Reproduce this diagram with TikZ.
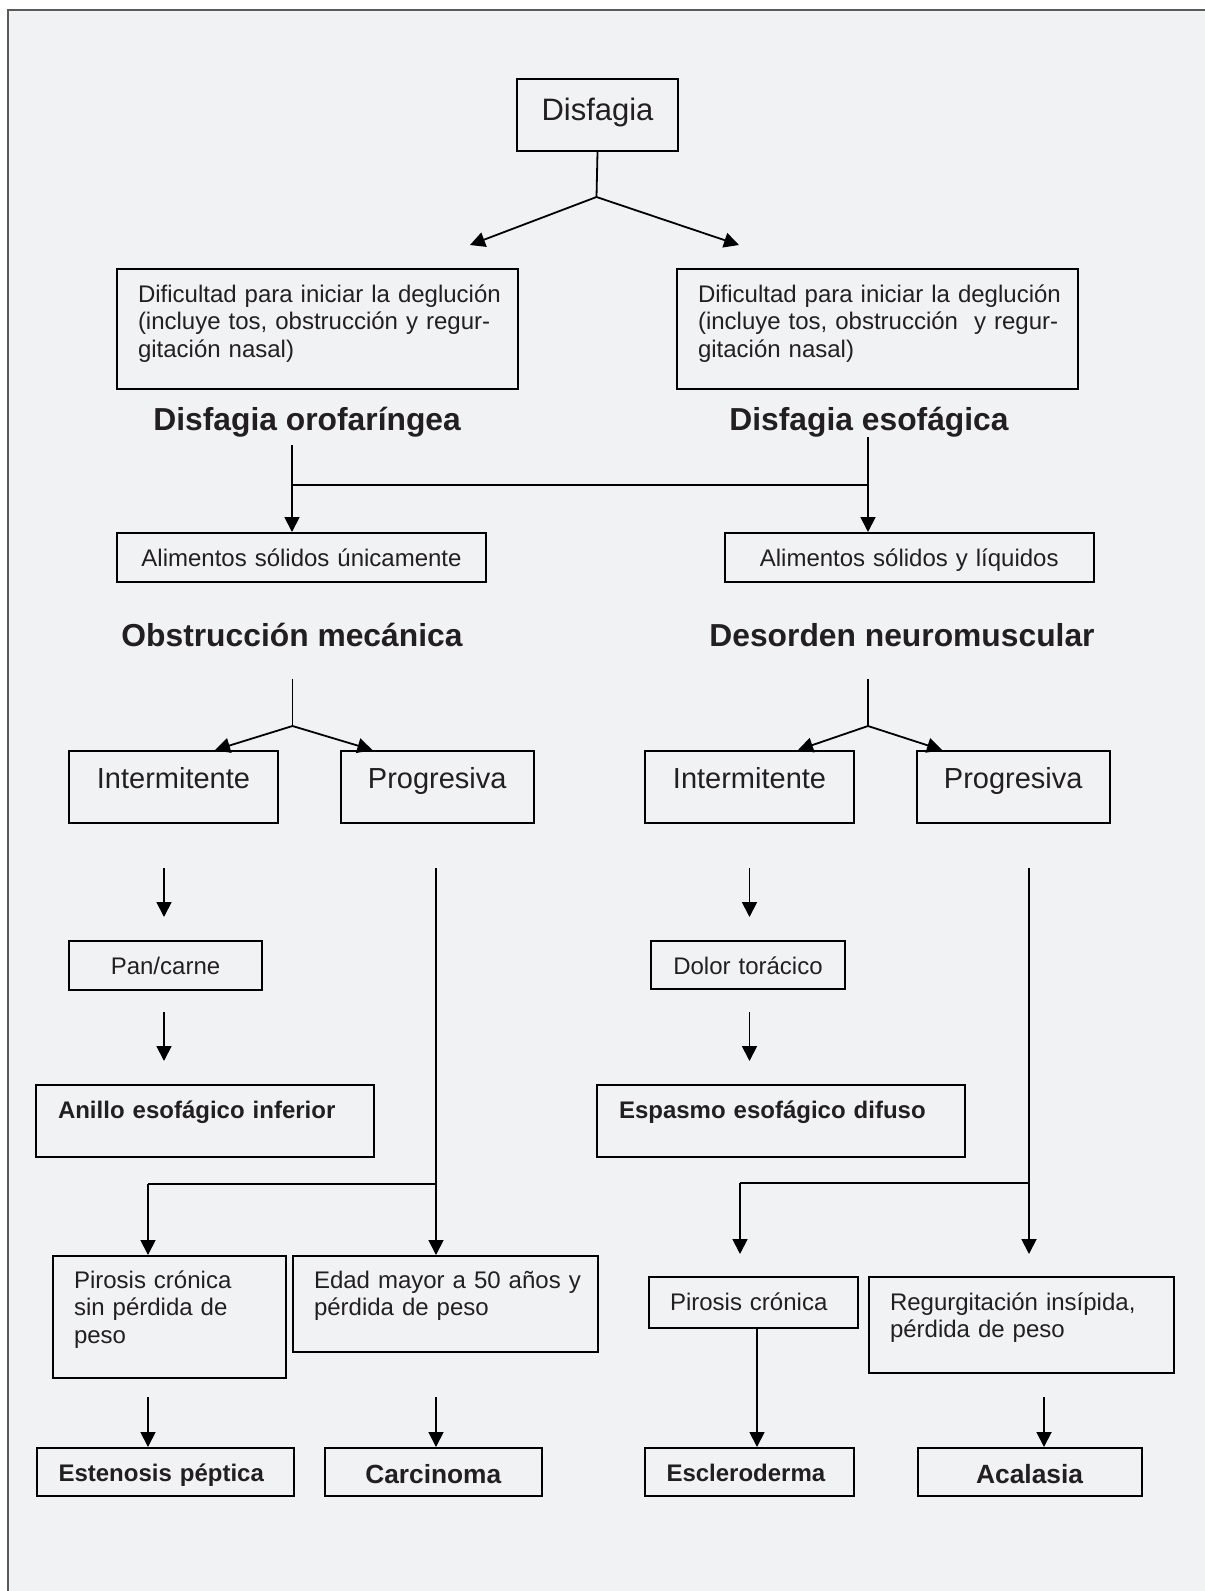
\documentclass[tikz,border=0pt]{standalone}
\usepackage{fontspec}
\setmainfont{Liberation Sans}
\usetikzlibrary{arrows.meta}
\definecolor{bgc}{HTML}{F1F2F4}
\definecolor{framec}{HTML}{5A5A5A}
\definecolor{txt}{HTML}{231F20}
\tikzset{
  bx/.style={draw=black, line width=1pt, inner ysep=0pt, anchor=base west, text=txt,
    font=\fontsize{12}{13.75}\selectfont},
  dims/.style n args={4}{text width=#1pt, text height=#2pt, text depth=#3pt, inner xsep=#4pt},
  arr/.style={-{Triangle[length=7.5pt,width=7.5pt]}, line width=0.9pt, draw=black},
  ln/.style={line width=0.9pt, draw=black},
  hd/.style={anchor=base west, inner sep=0pt, text=txt,
    font=\bfseries\fontsize{15.9}{18}\selectfont},
}
\begin{document}
\begin{tikzpicture}[x=0.5pt, y=-0.5pt]
\useasboundingbox (0,0) rectangle (1205,1591);
\fill[white] (0,0) rectangle (1205,1591);
\fill[bgc] (8,10) rectangle (1205,1591);
\draw[framec, line width=1pt] (8,1591) -- (8,10) -- (1205,10);

% boxes
\node[bx, dims={80.5}{20.5}{15.5}{0}, align=center, font=\fontsize{15.5}{18}\selectfont] (dis) at (516,120) {Disfagia};
\node[bx, dims={179.5}{16.5}{43.5}{10.5}, align=left] (ofl) at (116,302)
  {\mbox{Dificultad para iniciar la deglución}\\\mbox{(incluye tos, obstrucción y regur-}\\\mbox{gitación nasal)}};
\node[bx, dims={179.5}{16.5}{43.5}{10.5}, align=left] (ofr) at (676,302)
  {\mbox{Dificultad para iniciar la deglución}\\\mbox{(incluye tos, obstrucción\ \ y regur-}\\\mbox{gitación nasal)}};
\node[hd] (hl1) at (153,430) {Disfagia orofaríngea};
\node[hd] (hr1) at (729,430) {Disfagia esofágica};
\node[bx, dims={184.5}{16.5}{8}{0}, align=center] (al1) at (116,566) {\mbox{Alimentos sólidos únicamente}};
\node[bx, dims={184.75}{16.5}{8}{0}, align=center] (al2) at (723.5,566) {\mbox{Alimentos sólidos y líquidos}};
\node[hd] (hl2) at (121,646) {Obstrucción mecánica};
\node[hd] (hr2) at (709,646) {Desorden neuromuscular};
\node[bx, dims={104.5}{18.5}{17.5}{0}, align=center, font=\fontsize{14.5}{17}\selectfont] (in1) at (68,788) {Intermitente};
\node[bx, dims={96.25}{18.5}{17.5}{0}, align=center, font=\fontsize{14.5}{17}\selectfont] (pr1) at (340,788) {Progresiva};
\node[bx, dims={104.5}{18.5}{17.5}{0}, align=center, font=\fontsize{14.5}{17}\selectfont] (in2) at (644,788) {Intermitente};
\node[bx, dims={96.25}{18.5}{17.5}{0}, align=center, font=\fontsize{14.5}{17}\selectfont] (pr2) at (916,788) {Progresiva};
\node[bx, dims={96.5}{16.5}{8}{0}, align=center] (pan) at (68,974) {Pan/carne};
\node[bx, dims={97}{16.5}{7.5}{0}, align=center] (dol) at (650,974) {\mbox{Dolor torácico}};
\node[bx, dims={147}{16.5}{19.5}{11}, align=left, font=\bfseries\fontsize{12}{13.75}\selectfont] (ani) at (35,1118) {\mbox{Anillo esofágico inferior}};
\node[bx, dims={162}{16.5}{19.5}{11}, align=left, font=\bfseries\fontsize{12}{13.75}\selectfont] (esp) at (596,1118) {\mbox{Espasmo esofágico difuso}};
\node[bx, dims={95.5}{16}{45}{10.5}, align=left] (pi1) at (52,1288) {\mbox{Pirosis crónica}\\\mbox{sin pérdida de}\\peso};
\node[bx, dims={131.5}{16}{32}{10.5}, align=left] (eda) at (292,1288) {\mbox{Edad mayor a 50 años y}\\\mbox{pérdida de peso}};
\node[bx, dims={83.5}{16.5}{9}{10.5}, align=left] (pi2) at (648,1310) {\mbox{Pirosis crónica}};
\node[bx, dims={131.5}{16.5}{31.5}{10.5}, align=left] (reg) at (868,1310) {\mbox{Regurgitación insípida,}\\\mbox{pérdida de peso}};
\node[bx, dims={106.75}{16.5}{7.5}{10.75}, align=left, font=\bfseries\fontsize{12}{13.75}\selectfont] (est) at (36,1481) {\mbox{Estenosis péptica}};
\node[bx, dims={108.25}{17.5}{6.5}{0}, align=center, font=\bfseries\fontsize{13.15}{15}\selectfont] (car) at (324,1483) {Carcinoma};
\node[bx, dims={83}{16.5}{7.5}{10.75}, align=left, font=\bfseries\fontsize{12}{13.75}\selectfont] (esc) at (644,1481) {\mbox{Escleroderma}};
\node[bx, dims={112}{17.5}{6.5}{0}, align=center, font=\bfseries\fontsize{13.2}{15}\selectfont] (aca) at (916.6,1483) {Acalasia};

% coordinates
\coordinate (f1) at (596.5,197);
\coordinate (t1) at (470,245);
\coordinate (t2) at (739,245);
\coordinate (c1) at (292,445);
\coordinate (c2) at (868,437);
\coordinate (h1) at (0,485);
\coordinate (c3) at (292.5,679);
\coordinate (f2) at (292.5,726);
\coordinate (c4) at (868,679);
\coordinate (f3) at (868,726);
\coordinate (a1s) at (164,868);
\coordinate (a1e) at (164,917);
\coordinate (a2s) at (164,1012);
\coordinate (a2e) at (164,1061);
\coordinate (v1) at (436,868);
\coordinate (j1) at (148,1184);
\coordinate (b1) at (148,1397);
\coordinate (b2) at (436,1397);
\coordinate (a3s) at (749.5,868);
\coordinate (a3e) at (749.5,917);
\coordinate (a4s) at (749.5,1012);
\coordinate (a4e) at (749.5,1061);
\coordinate (v2) at (1029,868);
\coordinate (j2) at (740,1183);
\coordinate (e1) at (740,1254);
\coordinate (e2) at (1029,1254);
\coordinate (b3) at (1044,1397);

% connectors
\draw[ln] (dis.south) -- (f1);
\draw[arr] (f1) -- (t1);
\draw[arr] (f1) -- (t2);
\draw[arr] (c1) -- (c1 |- al1.north);
\draw[arr] (c2) -- (c2 |- al2.north);
\draw[ln] (c1 |- h1) -- (c2 |- h1);
\draw[ln] (c3) -- (f2);
\draw[arr] (f2) -- ([xshift=20.75pt]in1.north);
\draw[arr] (f2) -- ([xshift=-32.4pt]pr1.north);
\draw[ln] (c4) -- (f3);
\draw[arr] (f3) -- ([xshift=24.25pt]in2.north);
\draw[arr] (f3) -- ([xshift=-35.6pt]pr2.north);
\draw[arr] (a1s) -- (a1e);
\draw[arr] (a2s) -- (a2e);
\draw[arr] (v1) -- (v1 |- eda.north);
\draw[ln] (j1 -| v1) -- (j1);
\draw[arr] (j1) -- (j1 |- pi1.north);
\draw[arr] (b1) -- (b1 |- est.north);
\draw[arr] (b2) -- (b2 |- car.north);
\draw[arr] (a3s) -- (a3e);
\draw[arr] (a4s) -- (a4e);
\draw[arr] (v2) -- (e2);
\draw[ln] (j2 -| v2) -- (j2);
\draw[arr] (j2) -- (e1);
\draw[arr] ([xshift=1.75pt]pi2.south) -- ([xshift=1.75pt]pi2.south |- esc.north);
\draw[arr] (b3) -- (b3 |- aca.north);
\end{tikzpicture}
\end{document}
